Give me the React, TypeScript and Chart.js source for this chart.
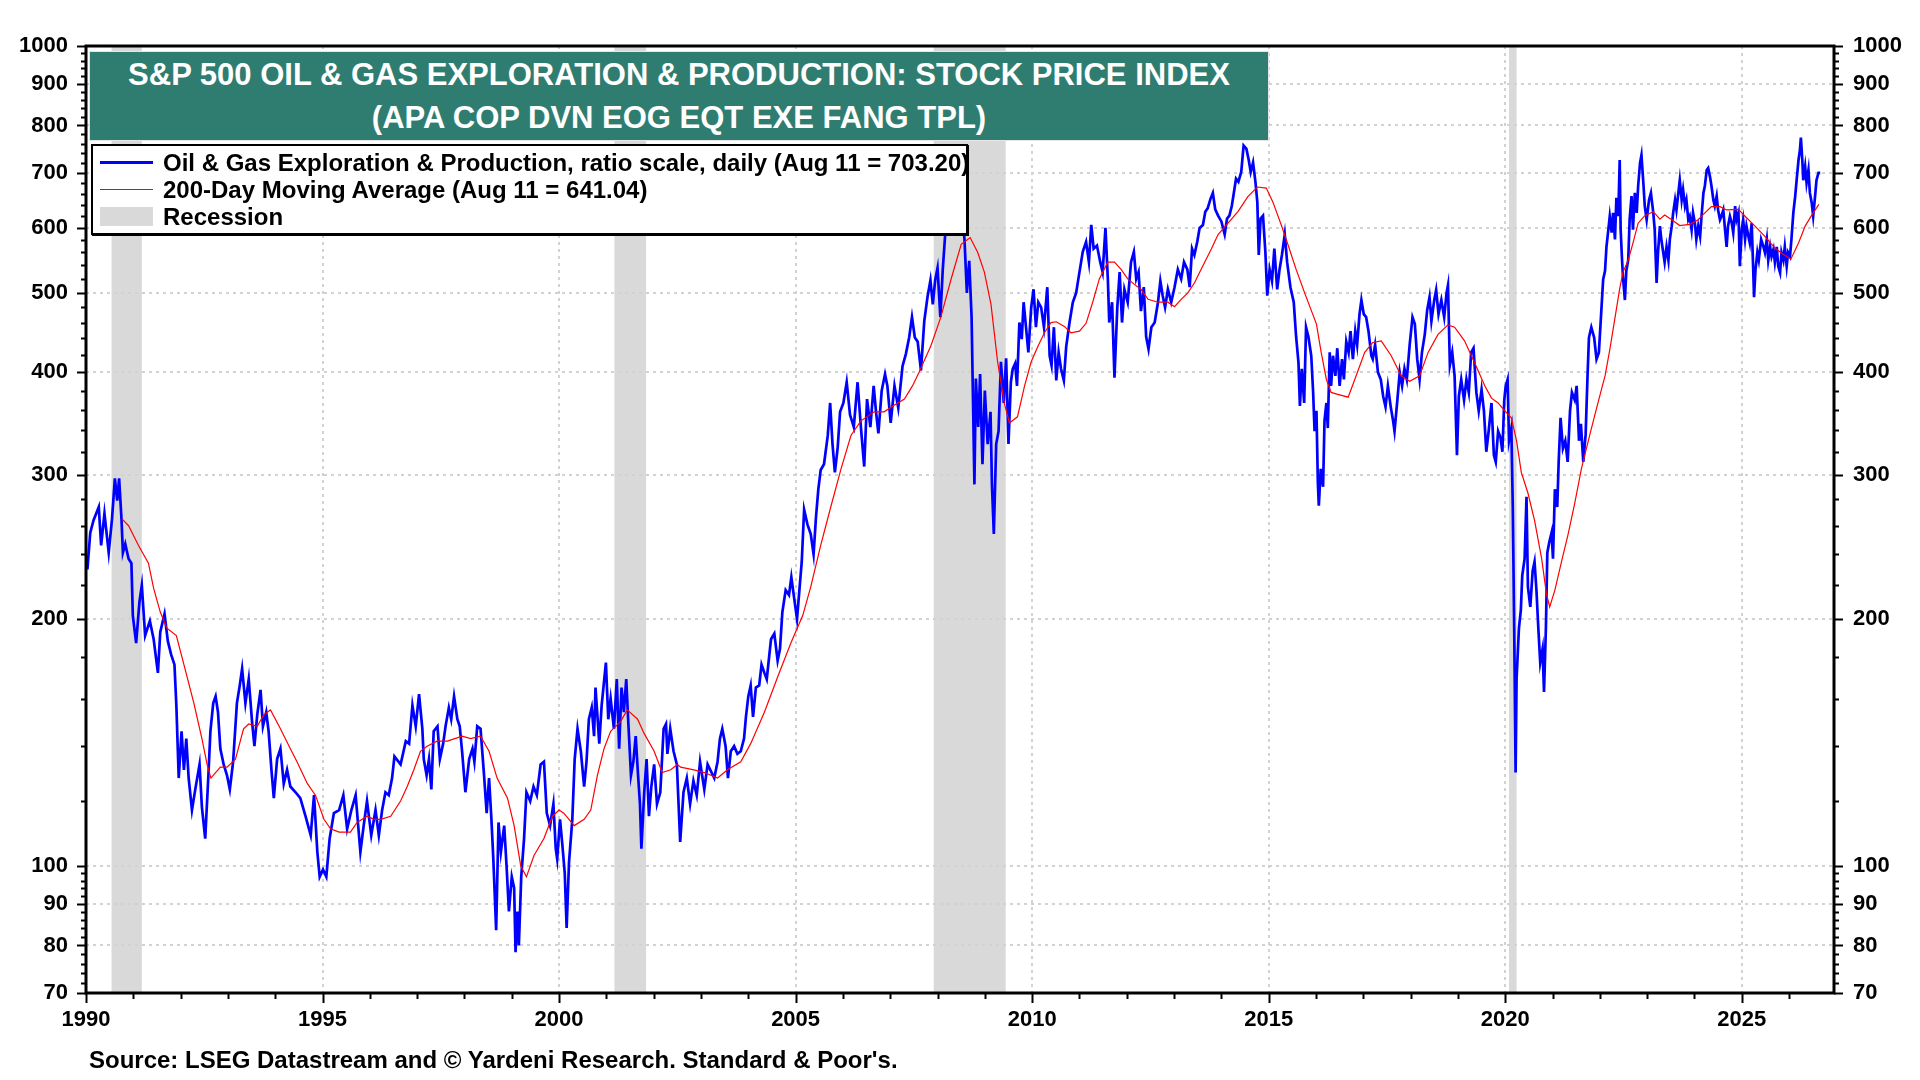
import { useEffect, useRef } from "react";
import { Chart, registerables } from "chart.js";

Chart.register(...registerables);

const FONT = '"Liberation Sans", Arial, Helvetica, sans-serif';

// daily index (decimal year, value)
const priceYears = [
  1990.03, 1990.09, 1990.16, 1990.27, 1990.32, 1990.39, 1990.48, 1990.55, 1990.61, 1990.66, 1990.7, 1990.75, 1990.78, 1990.83, 1990.9, 1990.96, 1990.99,
  1991.06, 1991.13, 1991.18, 1991.25, 1991.35, 1991.43, 1991.52, 1991.57, 1991.66, 1991.73, 1991.8, 1991.87, 1991.91, 1991.96,
  1992.02, 1992.07, 1992.12, 1992.17, 1992.24, 1992.31, 1992.4, 1992.45, 1992.52, 1992.59, 1992.63, 1992.69, 1992.74, 1992.79, 1992.84, 1992.91, 1992.98,
  1993.04, 1993.11, 1993.19, 1993.25, 1993.3, 1993.37, 1993.44, 1993.51, 1993.56, 1993.62, 1993.69, 1993.74, 1993.81, 1993.86, 1993.92, 1993.97,
  1994.04, 1994.11, 1994.18, 1994.25, 1994.32, 1994.43, 1994.53, 1994.64, 1994.75, 1994.82, 1994.89, 1994.94,
  1995.01, 1995.08, 1995.15, 1995.24, 1995.35, 1995.44, 1995.52, 1995.61, 1995.7, 1995.8, 1995.87, 1995.94,
  1996.03, 1996.12, 1996.19, 1996.26, 1996.33, 1996.4, 1996.47, 1996.52, 1996.65, 1996.76, 1996.83, 1996.9, 1996.97,
  1997.04, 1997.11, 1997.14, 1997.2, 1997.25, 1997.3, 1997.35, 1997.43, 1997.48, 1997.55, 1997.6, 1997.67, 1997.72, 1997.78, 1997.85, 1997.9, 1997.95,
  1998.02, 1998.1, 1998.17, 1998.21, 1998.27, 1998.34, 1998.41, 1998.47, 1998.52, 1998.57, 1998.61, 1998.67, 1998.72, 1998.77, 1998.84, 1998.89, 1998.94,
  1999.0, 1999.05, 1999.08, 1999.12, 1999.15, 1999.2, 1999.26, 1999.31, 1999.39, 1999.46, 1999.53, 1999.61, 1999.68, 1999.74, 1999.81, 1999.88, 1999.93, 1999.96,
  2000.02, 2000.07, 2000.12, 2000.16, 2000.21, 2000.28, 2000.33, 2000.39, 2000.46, 2000.53, 2000.58, 2000.63, 2000.69, 2000.74, 2000.77, 2000.85, 2000.9, 2000.99,
  2001.04, 2001.09, 2001.16, 2001.22, 2001.27, 2001.32, 2001.37, 2001.42, 2001.46, 2001.52, 2001.57, 2001.62, 2001.67, 2001.71, 2001.74, 2001.8, 2001.85, 2001.9, 2001.95,
  2002.01, 2002.07, 2002.14, 2002.21, 2002.26, 2002.29, 2002.35, 2002.42, 2002.49, 2002.56, 2002.63, 2002.7, 2002.77, 2002.84, 2002.91, 2002.98,
  2003.07, 2003.14, 2003.28, 2003.35, 2003.4, 2003.45, 2003.52, 2003.57, 2003.63, 2003.7, 2003.77, 2003.84, 2003.91, 2003.95,
  2004.0, 2004.05, 2004.1, 2004.16, 2004.23, 2004.28, 2004.34, 2004.39, 2004.48, 2004.55, 2004.62, 2004.67, 2004.72, 2004.79, 2004.86, 2004.91, 2004.97,
  2005.03, 2005.08, 2005.13, 2005.18, 2005.25, 2005.32, 2005.38, 2005.43, 2005.48, 2005.53, 2005.6, 2005.68, 2005.73, 2005.78, 2005.83, 2005.89, 2005.94,
  2006.01, 2006.08, 2006.15, 2006.23, 2006.31, 2006.38, 2006.45, 2006.51, 2006.58, 2006.65, 2006.7, 2006.75, 2006.82, 2006.89, 2006.94,
  2007.01, 2007.09, 2007.17, 2007.26, 2007.33, 2007.4, 2007.46, 2007.52, 2007.58, 2007.65, 2007.72, 2007.79, 2007.85, 2007.9, 2007.95,
  2008.0, 2008.06, 2008.11, 2008.16, 2008.23, 2008.32, 2008.46, 2008.57, 2008.62, 2008.67, 2008.72, 2008.78, 2008.81, 2008.86, 2008.9, 2008.95,
  2009.0, 2009.06, 2009.12, 2009.15, 2009.19, 2009.24, 2009.29, 2009.34, 2009.4, 2009.45, 2009.5, 2009.55, 2009.59, 2009.64, 2009.68, 2009.73, 2009.78, 2009.82, 2009.87, 2009.92, 2009.98,
  2010.03, 2010.08, 2010.13, 2010.19, 2010.25, 2010.32, 2010.37, 2010.41, 2010.46, 2010.51, 2010.56, 2010.61, 2010.67, 2010.72, 2010.79, 2010.86, 2010.93,
  2011.0, 2011.07, 2011.14, 2011.2, 2011.25, 2011.3, 2011.37, 2011.44, 2011.49, 2011.55, 2011.6, 2011.63, 2011.69, 2011.74, 2011.8, 2011.85, 2011.9, 2011.95,
  2012.02, 2012.09, 2012.15, 2012.2, 2012.25, 2012.3, 2012.36, 2012.41, 2012.46, 2012.52, 2012.59, 2012.66, 2012.71, 2012.76, 2012.81, 2012.87, 2012.94,
  2013.01, 2013.08, 2013.15, 2013.21, 2013.28, 2013.33, 2013.38, 2013.43, 2013.49, 2013.54, 2013.61, 2013.66, 2013.71, 2013.77, 2013.82, 2013.87, 2013.93,
  2014.0, 2014.07, 2014.12, 2014.17, 2014.22, 2014.26, 2014.31, 2014.36, 2014.42, 2014.47, 2014.53, 2014.58, 2014.62, 2014.67, 2014.72, 2014.76, 2014.79, 2014.83, 2014.88, 2014.93, 2014.97,
  2015.02, 2015.07, 2015.12, 2015.18, 2015.23, 2015.28, 2015.34, 2015.39, 2015.46, 2015.53, 2015.58, 2015.63, 2015.66, 2015.7, 2015.75, 2015.79, 2015.84, 2015.9, 2015.94, 2015.97,
  2016.01, 2016.04, 2016.06, 2016.1, 2016.15, 2016.18, 2016.22, 2016.25, 2016.29, 2016.32, 2016.36, 2016.41, 2016.45, 2016.5, 2016.55, 2016.59, 2016.64, 2016.69, 2016.73, 2016.78, 2016.83, 2016.87, 2016.92, 2016.96,
  2017.01, 2017.06, 2017.11, 2017.17, 2017.2, 2017.25, 2017.31, 2017.37, 2017.42, 2017.47, 2017.52, 2017.58, 2017.63, 2017.66, 2017.72, 2017.77, 2017.82, 2017.87, 2017.92, 2017.98,
  2018.04, 2018.09, 2018.14, 2018.19, 2018.24, 2018.3, 2018.35, 2018.4, 2018.44, 2018.5, 2018.54, 2018.59, 2018.65, 2018.71, 2018.76, 2018.79, 2018.83, 2018.88, 2018.93, 2018.98,
  2019.02, 2019.07, 2019.13, 2019.18, 2019.23, 2019.28, 2019.33, 2019.39, 2019.44, 2019.5, 2019.55, 2019.6, 2019.65, 2019.71, 2019.76, 2019.8, 2019.85, 2019.9, 2019.94, 2019.98,
  2020.01, 2020.05, 2020.08, 2020.13, 2020.16, 2020.19, 2020.22, 2020.24, 2020.29, 2020.33, 2020.36, 2020.41, 2020.45, 2020.48, 2020.53, 2020.58, 2020.62, 2020.66, 2020.7, 2020.74, 2020.79, 2020.82, 2020.86, 2020.89, 2020.93, 2020.98,
  2021.01, 2021.05, 2021.1, 2021.13, 2021.17, 2021.22, 2021.27, 2021.32, 2021.37, 2021.41, 2021.47, 2021.51, 2021.56, 2021.6, 2021.65, 2021.7, 2021.74, 2021.77, 2021.82, 2021.88, 2021.93, 2021.98,
  2022.07, 2022.11, 2022.14, 2022.18, 2022.21, 2022.25, 2022.28, 2022.32, 2022.35, 2022.39, 2022.42, 2022.44, 2022.47, 2022.49, 2022.53, 2022.56, 2022.6, 2022.63, 2022.67, 2022.7, 2022.74, 2022.78, 2022.81, 2022.85, 2022.88, 2022.92, 2022.95, 2022.99,
  2023.04, 2023.08, 2023.13, 2023.16, 2023.2, 2023.23, 2023.27, 2023.3, 2023.34, 2023.37, 2023.41, 2023.45, 2023.48, 2023.52, 2023.55, 2023.59, 2023.62, 2023.66, 2023.69, 2023.73, 2023.76, 2023.8, 2023.83, 2023.87, 2023.9, 2023.94, 2023.97,
  2024.01, 2024.04, 2024.08, 2024.12, 2024.15, 2024.19, 2024.22, 2024.26, 2024.29, 2024.33, 2024.36, 2024.4, 2024.43, 2024.47, 2024.5, 2024.54, 2024.57, 2024.61, 2024.64, 2024.68, 2024.71, 2024.75, 2024.79, 2024.82, 2024.86, 2024.89, 2024.93, 2024.96,
  2025.0, 2025.03, 2025.07, 2025.1, 2025.14, 2025.17, 2025.21, 2025.24, 2025.26, 2025.29, 2025.33, 2025.36, 2025.41, 2025.46, 2025.49, 2025.53, 2025.56, 2025.6, 2025.63, 2025.67, 2025.7, 2025.74, 2025.77, 2025.81, 2025.84, 2025.88, 2025.91, 2025.95, 2025.98,
  2026.02, 2026.05, 2026.09, 2026.13, 2026.16, 2026.2, 2026.23, 2026.25, 2026.28, 2026.3, 2026.34, 2026.37, 2026.41, 2026.44, 2026.48, 2026.51, 2026.55, 2026.58, 2026.62, 2026.63,
];

const priceValues = [
  230, 255, 264, 274, 246, 269, 241, 265, 297, 279, 297, 265, 241, 247, 237, 234, 202,
  187, 210, 220, 191, 199, 189, 172, 193, 203, 188, 181, 176, 157, 128,
  146, 131, 143, 128, 117, 124, 133, 118, 108, 130, 146, 158, 161, 154, 139, 133, 129,
  124, 134, 158, 166, 174, 158, 169, 150, 140, 153, 164, 148, 154, 146, 131, 121,
  135, 139, 126, 131, 125, 123, 121, 115, 109, 122, 104, 97,
  99, 97, 108, 116, 117, 122, 111, 117, 122, 104, 112, 120,
  109, 117, 109, 117, 123, 122, 128, 136, 133, 142, 141, 157, 148,
  162, 147, 135, 129, 135, 124, 146, 148, 135, 141, 148, 156, 151, 161, 151, 148, 138,
  123, 135, 139, 134, 148, 147, 130, 116, 128, 114, 102, 83.5, 113, 104, 112, 100, 88,
  97, 94, 78.5, 88, 80, 97, 108, 123, 120, 125, 122, 133, 134, 116, 112, 119, 105, 102,
  114, 106, 98, 84, 101, 114, 135, 147, 138, 125, 134, 151, 156, 144, 165, 141, 157, 177,
  151, 160, 147, 169, 139, 165, 154, 169, 151, 129, 134, 144, 129, 119, 105, 123, 135, 115, 125,
  133, 119, 123, 147, 149, 137, 147, 138, 133, 107, 123, 128, 119, 127, 122, 134,
  124, 133, 128, 134, 143, 147, 140, 128, 138, 140, 137, 138, 143, 152,
  161, 166, 152, 165, 166, 176, 172, 169, 189, 192, 178, 184, 204, 217, 214, 225, 212,
  200, 217, 235, 272, 261, 254, 240, 266, 288, 304, 309, 335, 367, 327, 302, 324, 358,
  367, 389, 355, 343, 389, 343, 307, 371, 343, 385, 358, 337, 380, 398, 385,
  347, 385, 362, 407, 421, 441, 467, 441, 436, 402, 462, 495, 518, 484, 518,
  536, 467, 533, 587, 630, 650, 690, 581, 500, 547, 467, 292, 393, 343, 398, 309,
  380, 327, 358, 292, 254, 327, 339, 412, 367, 416, 327, 389, 404, 410, 385, 460, 439, 487, 454, 423, 480,
  505, 454, 487, 480, 454, 508, 419, 408, 454, 391, 423, 404, 391, 430, 460, 487, 500,
  530, 561, 577, 545, 605, 566, 571, 545, 530, 600, 520, 460, 487, 394, 480, 530, 460, 505,
  487, 545, 561, 520, 530, 475, 508, 442, 427, 454, 460, 487, 517, 496, 480, 505, 487,
  508, 534, 520, 545, 534, 508, 566, 556, 577, 600, 605, 628, 634, 651, 662, 632, 621,
  611, 589, 616, 621, 638, 660, 689, 683, 702, 756, 749, 725, 702, 721, 683, 645, 556, 616, 621, 561, 496,
  534, 517, 566, 505, 534, 556, 589, 545, 508, 487, 442, 411, 364, 404, 367, 454, 442, 419, 378, 339,
  359, 293, 275, 305, 290, 349, 367, 342, 423, 385, 419, 396, 428, 385, 415, 392, 436, 423, 449, 415, 449, 432, 471, 490,
  471, 467, 449, 419, 415, 432, 400, 392, 374, 363, 385, 363, 349, 339, 370, 400, 385, 404, 392, 432,
  467, 458, 415, 392, 423, 445, 476, 494, 462, 490, 504, 471, 490, 467, 500, 511, 408, 423, 396, 317,
  374, 392, 370, 392, 378, 423, 428, 378, 359, 381, 359, 320, 339, 367, 317, 311, 339, 333, 320, 370,
  385, 392, 330, 342, 274, 195, 130, 169, 195, 205, 226, 237, 282, 219, 207, 229, 235, 217, 195, 177, 184, 163, 195, 241, 248, 255,
  237, 288, 274, 311, 352, 323, 330, 311, 359, 378, 370, 385, 330, 346, 311, 336, 396, 441, 454, 441, 415, 423,
  519, 532, 569, 597, 620, 592, 626, 581, 653, 620, 726, 597, 548, 522, 490, 532, 548, 614, 656, 597, 662, 626, 675, 720, 736, 681, 638, 614,
  649, 662, 626, 597, 514, 560, 603, 581, 560, 545, 569, 548, 581, 603, 626, 649, 631, 662, 686, 649, 668, 638, 649, 614, 620, 597, 626,
  608, 581, 603, 586, 620, 662, 675, 706, 710, 692, 675, 649, 638, 656, 631, 614, 620, 631, 603, 569, 603, 620, 608, 592, 638, 614, 626, 539,
  597, 614, 581, 603, 586, 575, 608, 539, 494, 533, 560, 548, 581, 569, 560, 581, 548, 569, 554, 565, 545, 569, 539, 529, 560, 548, 569, 539, 560,
  554, 581, 626, 656, 686, 726, 747, 773, 726, 686, 713, 681, 706, 662, 643, 620, 656, 686, 700, 703.2,
];

// 200-day moving average
const maYears = [
  1990.76, 1990.9, 1991.11, 1991.32, 1991.43, 1991.57, 1991.71, 1991.91, 1992.07, 1992.28, 1992.45, 1992.56, 1992.64, 1992.84, 1992.98,
  1993.16, 1993.33, 1993.44, 1993.62, 1993.76, 1993.9, 1994.11, 1994.32, 1994.46, 1994.68, 1994.85, 1995.03, 1995.17, 1995.35, 1995.59, 1995.73, 1995.94,
  1996.09, 1996.23, 1996.44, 1996.65, 1996.79, 1996.93, 1997.07, 1997.21, 1997.42, 1997.64, 1997.95, 1998.13, 1998.34, 1998.52, 1998.69, 1998.91,
  1999.05, 1999.19, 1999.31, 1999.47, 1999.68, 1999.86, 2000.0, 2000.1, 2000.32, 2000.53, 2000.67, 2000.81, 2000.95, 2001.09, 2001.3, 2001.44, 2001.66, 2001.8,
  2002.01, 2002.18, 2002.36, 2002.5, 2002.57, 2002.85, 2003.07, 2003.35, 2003.56, 2003.84, 2004.05, 2004.34, 2004.62, 2004.9, 2005.15, 2005.32, 2005.53, 2005.75, 2005.96,
  2006.17, 2006.38, 2006.66, 2006.87, 2007.09, 2007.3, 2007.47, 2007.61, 2007.86, 2008.07, 2008.28, 2008.5, 2008.69, 2008.85, 2008.99, 2009.13, 2009.27, 2009.41, 2009.52,
  2009.69, 2009.84, 2009.98, 2010.12, 2010.26, 2010.4, 2010.51, 2010.68, 2010.82, 2011.0, 2011.14, 2011.28, 2011.42, 2011.6, 2011.74, 2011.88,
  2012.02, 2012.16, 2012.3, 2012.45, 2012.66, 2012.87, 2013.01, 2013.15, 2013.29, 2013.43, 2013.57, 2013.79, 2013.93, 2014.14, 2014.35, 2014.56, 2014.76, 2014.95,
  2015.09, 2015.27, 2015.41, 2015.58, 2015.76, 2016.01, 2016.11, 2016.22, 2016.32, 2016.46, 2016.68, 2016.82, 2017.03, 2017.2, 2017.38, 2017.59, 2017.8, 2017.98,
  2018.19, 2018.37, 2018.58, 2018.79, 2018.93, 2019.14, 2019.36, 2019.57, 2019.71, 2019.85, 2019.99, 2020.13, 2020.24, 2020.34, 2020.48, 2020.62, 2020.77, 2020.87, 2020.94,
  2021.05, 2021.19, 2021.33, 2021.47, 2021.61, 2021.79, 2021.96, 2022.11, 2022.21, 2022.32, 2022.42, 2022.49, 2022.6, 2022.7, 2022.81, 2022.95,
  2023.13, 2023.27, 2023.37, 2023.52, 2023.69, 2023.9, 2024.08, 2024.22, 2024.36, 2024.54, 2024.68, 2024.93, 2025.07, 2025.28, 2025.49, 2025.7, 2025.88,
  2026.04, 2026.2, 2026.34, 2026.48, 2026.63,
];

const maValues = [
  265, 260, 246, 234, 218, 204, 195, 191, 176, 158, 143, 133, 128, 132, 132,
  135, 147, 149, 148, 153, 155, 147, 139, 134, 126, 122, 114, 111, 110, 110, 113, 115,
  114, 114, 115, 120, 125, 131, 138, 140, 142, 142, 144, 143, 144, 138, 128, 121,
  112, 100, 97, 103, 108, 115, 117, 116, 112, 114, 117, 129, 139, 146, 150, 155, 151, 145,
  138, 130, 131, 133, 132, 131, 130, 128, 131, 134, 141, 154, 170, 187, 202, 219, 246, 275, 305,
  335, 349, 358, 358, 365, 371, 385, 400, 431, 467, 518, 573, 584, 560, 530, 484, 412, 367, 347,
  353, 385, 412, 430, 447, 460, 461, 455, 447, 449, 459, 487, 520, 545, 545, 534,
  520, 512, 505, 491, 487, 487, 481, 491, 500, 514, 534, 566, 589, 608, 628, 655, 673, 671,
  645, 604, 572, 534, 500, 458, 423, 392, 378, 376, 373, 392, 423, 435, 437, 419, 396, 390,
  396, 423, 445, 457, 454, 437, 410, 385, 372, 367, 359, 352, 330, 302, 285, 264, 237, 215, 207,
  217, 235, 254, 277, 305, 336, 367, 396, 426, 466, 506, 530, 548, 575, 608, 621,
  628, 615, 622, 614, 604, 606, 614, 626, 637, 637, 631, 632, 620, 603, 586, 567, 557,
  550, 575, 603, 622, 641.04,
];

const recessionStarts = [1990.54, 2001.17, 2007.92, 2020.08];
const recessionEnds = [1991.18, 2001.84, 2009.44, 2020.24];

const yMajorTicks = [70, 80, 90, 100, 200, 300, 400, 500, 600, 700, 800, 900, 1000];
const yMinorTicks = [
  72, 74, 76, 78, 82, 84, 86, 88, 92, 94, 96, 98,
  120, 140, 160, 180, 220, 240, 260, 280, 320, 340, 360, 380, 420, 440, 460, 480,
  520, 540, 560, 580, 620, 640, 660, 680, 720, 740, 760, 780, 820, 840, 860, 880, 920, 940, 960, 980,
];
const xMajorTicks = [1990, 1995, 2000, 2005, 2010, 2015, 2020, 2025];
const xMinorTicks = [
  1991, 1992, 1993, 1994, 1996, 1997, 1998, 1999, 2001, 2002, 2003, 2004, 2006, 2007, 2008, 2009,
  2011, 2012, 2013, 2014, 2016, 2017, 2018, 2019, 2021, 2022, 2023, 2024, 2026,
];

const legendItems = [
  { label: "Oil & Gas Exploration & Production, ratio scale, daily (Aug 11 = 703.20)", kind: "line", color: "#0000ff", width: 3 },
  { label: "200-Day Moving Average (Aug 11 = 641.04)", kind: "line", color: "#ff0000", width: 1 },
  { label: "Recession", kind: "box", color: "#d9d9d9", width: 0 },
];

// recession bands under the grid, tick marks + frame on top
const decorPlugin = {
  id: "decor",
  beforeDraw(chart: any) {
    const { ctx, chartArea: a, scales } = chart;
    ctx.save();
    ctx.fillStyle = "#d9d9d9";
    recessionStarts.forEach((s, i) => {
      const x1 = scales.x.getPixelForValue(s);
      const x2 = scales.x.getPixelForValue(recessionEnds[i]);
      ctx.fillRect(x1, a.top, x2 - x1, a.bottom - a.top);
    });
    ctx.restore();
  },
  afterDraw(chart: any) {
    const { ctx, chartArea: a, scales } = chart;
    const seg = (x1: number, y1: number, x2: number, y2: number) => {
      ctx.beginPath();
      ctx.moveTo(x1, y1);
      ctx.lineTo(x2, y2);
      ctx.stroke();
    };
    ctx.save();
    ctx.strokeStyle = "#000";
    ctx.lineWidth = 2;
    const yTick = (v: number, len: number) => {
      const p = Math.round(scales.y.getPixelForValue(v)) + 0.5;
      seg(a.left - len, p, a.left, p);
      seg(a.right, p, a.right + len, p);
    };
    yMajorTicks.forEach((v) => yTick(v, 9));
    yMinorTicks.forEach((v) => yTick(v, 5));
    const xTick = (v: number, len: number) => {
      const p = Math.round(scales.x.getPixelForValue(v)) + 0.5;
      seg(p, a.bottom, p, a.bottom + len);
    };
    xMajorTicks.forEach((v) => xTick(v, 10));
    xMinorTicks.forEach((v) => xTick(v, 6));
    ctx.lineWidth = 3;
    ctx.strokeRect(a.left, a.top, a.right - a.left, a.bottom - a.top);
    ctx.restore();
  },
};

function StockChart() {
  const canvasRef = useRef<HTMLCanvasElement | null>(null);

  useEffect(() => {
    if (!canvasRef.current) return;

    const tickFont = { family: FONT, size: 22, weight: "bold" as const };
    const yAxis = (position: "left" | "right", onArea: boolean) => ({
      type: "logarithmic" as const,
      position,
      min: 70,
      max: 1000,
      afterBuildTicks: (scale: any) => {
        scale.ticks = yMajorTicks.map((value) => ({ value }));
      },
      afterFit: (scale: any) => {
        scale.width = 86;
      },
      ticks: {
        autoSkip: false,
        color: "#000",
        font: tickFont,
        padding: position === "left" ? 18 : 19,
        callback: (v: any) => String(v),
      },
      grid: {
        display: onArea,
        drawTicks: false,
        color: "#d2d2d2",
        lineWidth: 2,
      },
      border: { display: false, dash: [3, 4] },
    });

    const chart = new Chart(canvasRef.current, {
      type: "line",
      data: {
        datasets: [
          {
            label: "200-Day Moving Average",
            data: maYears.map((x, i) => ({ x, y: maValues[i] })),
            borderColor: "#ff0000",
            borderWidth: 1.2,
            pointRadius: 0,
            tension: 0,
          },
          {
            label: "Oil & Gas Exploration & Production",
            data: priceYears.map((x, i) => ({ x, y: priceValues[i] })),
            borderColor: "#0000ff",
            borderWidth: 2.7,
            pointRadius: 0,
            tension: 0,
          },
        ],
      },
      options: {
        responsive: false,
        animation: false,
        devicePixelRatio: 1,
        layout: { padding: { top: 46, left: 0, right: 0, bottom: 0 } },
        plugins: {
          legend: { display: false },
          title: { display: false },
          tooltip: { enabled: false },
        },
        scales: {
          x: {
            type: "linear",
            min: 1990,
            max: 2026.95,
            afterBuildTicks: (scale: any) => {
              scale.ticks = xMajorTicks.map((value) => ({ value }));
            },
            afterFit: (scale: any) => {
              scale.height = 87;
            },
            ticks: {
              autoSkip: false,
              maxRotation: 0,
              color: "#000",
              font: tickFont,
              padding: 14,
              callback: (v: any) => String(v),
            },
            grid: { drawTicks: false, color: "#d2d2d2", lineWidth: 2 },
            border: { display: false, dash: [3, 4] },
          },
          y: yAxis("left", true),
          y2: yAxis("right", false),
        },
      },
      plugins: [decorPlugin],
    } as any);

    return () => chart.destroy();
  }, []);

  return <canvas ref={canvasRef} width={1920} height={1080} style={{ position: "absolute", left: 0, top: 0 }} />;
}

export default function App() {
  return (
    <div style={{ position: "relative", width: 1920, height: 1080, background: "#fff", overflow: "hidden", fontFamily: FONT }}>
      <style>{"body{margin:0}"}</style>
      <StockChart />

      {/* title box */}
      <div
        style={{
          position: "absolute",
          left: 89,
          top: 51,
          width: 1180,
          height: 90,
          boxSizing: "border-box",
          background: "#2f7d70",
          border: "1px solid #e6e6e6",
          color: "#fff",
          fontWeight: "bold",
          fontSize: 31,
          lineHeight: "43px",
          textAlign: "center",
          paddingTop: 1,
          whiteSpace: "nowrap",
        }}
      >
        <div>S&amp;P 500 OIL &amp; GAS EXPLORATION &amp; PRODUCTION: STOCK PRICE INDEX</div>
        <div>(APA COP DVN EOG EQT EXE FANG TPL)</div>
      </div>

      {/* legend box */}
      <div
        style={{
          position: "absolute",
          left: 91,
          top: 144,
          width: 877,
          height: 91,
          boxSizing: "border-box",
          background: "#fff",
          border: "2px solid #000",
          boxShadow: "1px 1px 0 #000",
          paddingTop: 3,
        }}
      >
        {legendItems.map((it) => (
          <div key={it.label} style={{ display: "flex", alignItems: "center", height: 27 }}>
            <div style={{ width: 53, marginLeft: 7, display: "flex", alignItems: "center", justifyContent: "center" }}>
              {it.kind === "line" ? (
                <div style={{ width: 53, height: it.width, background: it.color }} />
              ) : (
                <div style={{ width: 53, height: 19, background: it.color }} />
              )}
            </div>
            <span style={{ marginLeft: 10, fontSize: 24, fontWeight: "bold", color: "#000", whiteSpace: "nowrap" }}>{it.label}</span>
          </div>
        ))}
      </div>

      {/* source line */}
      <div
        style={{
          position: "absolute",
          left: 89,
          top: 1046,
          fontSize: 24,
          fontWeight: "bold",
          color: "#000",
          whiteSpace: "nowrap",
          lineHeight: "28px",
        }}
      >
        Source: LSEG Datastream and © Yardeni Research. Standard &amp; Poor's.
      </div>
    </div>
  );
}
